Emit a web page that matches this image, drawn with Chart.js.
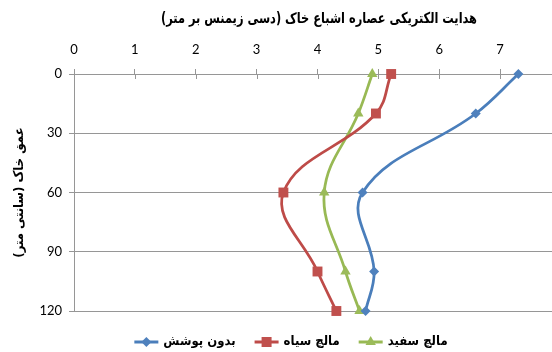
<!DOCTYPE html>
<html>
<head>
<meta charset="utf-8">
<script src="https://cdn.jsdelivr.net/npm/chart.js@4.4.1/dist/chart.umd.min.js"></script>
<style>
  html, body { margin: 0; padding: 0; background: #fff; }
  #wrap { width: 552px; height: 352px; overflow: hidden; position: relative; }
  #c { display: block; }
</style>
</head>
<body>
<div id="wrap"><canvas id="c" width="600" height="352"></canvas></div>
<script>
// Soil depth (cm) at which the saturated-paste EC was measured
const depths = [0, 20, 60, 100, 120];
// EC (dS/m) per treatment
const bareSoil   = [7.30, 6.60, 4.74, 4.93, 4.79];
const blackMulch = [5.21, 4.96, 3.44, 4.00, 4.31];
const whiteMulch = [4.90, 4.67, 4.11, 4.46, 4.69];
// Labels
const seriesNames = ['بدون پوشش', 'مالچ سیاه', 'مالچ سفید'];
const chartTitle = 'هدایت الکتریکی عصاره اشباع خاک (دسی زیمنس بر متر)';
const depthTitle = 'عمق خاک (سانتی متر)';
const ecTicks = [0, 1, 2, 3, 4, 5, 6, 7, 8];
const depthTicks = [0, 30, 60, 90, 120];

const GRID = '#969696';
const persianFont = '"DejaVu Sans Condensed", "DejaVu Sans", sans-serif';
const tickFont = { family: 'Lato, "Liberation Sans", sans-serif', size: 13 };

function profile(values) {
  return depths.map((d, i) => ({ x: values[i], y: d }));
}

// Title drawn centred over the plot, fitted to a fixed width
const titlePlugin = {
  id: 'figTitle',
  afterDraw(chart) {
    const ctx = chart.ctx;
    ctx.save();
    ctx.font = 'bold 15px ' + persianFont;
    ctx.fillStyle = '#000';
    ctx.textAlign = 'center';
    ctx.textBaseline = 'middle';
    const w = ctx.measureText(chartTitle).width;
    const k = Math.min(1, 316 / w);
    ctx.translate(319, 19);
    ctx.scale(k, 1);
    ctx.fillText(chartTitle, 0, 0);
    ctx.restore();
  }
};

// Cross-style tick marks on the EC axis (inner half)
const crossTicks = {
  id: 'crossTicks',
  beforeDatasetsDraw(chart) {
    const x = chart.scales.x, ctx = chart.ctx;
    const top = chart.chartArea.top;
    ctx.save();
    ctx.strokeStyle = GRID;
    ctx.lineWidth = 1;
    x.ticks.forEach(t => {
      const px = Math.round(x.getPixelForValue(t.value)) + 0.5;
      ctx.beginPath();
      ctx.moveTo(px, top);
      ctx.lineTo(px, top + 5);
      ctx.stroke();
    });
    ctx.restore();
  }
};

// Legend with line + marker samples
function drawMarker(ctx, style, x, y, color) {
  ctx.fillStyle = color;
  ctx.beginPath();
  if (style === 'rectRot') {
    const r = 5;
    ctx.moveTo(x - r, y); ctx.lineTo(x, y - r); ctx.lineTo(x + r, y); ctx.lineTo(x, y + r);
  } else if (style === 'rect') {
    const s = 5;
    ctx.rect(x - s, y - s, 2 * s, 2 * s);
  } else {
    const r = 6;
    ctx.moveTo(x, y - r);
    ctx.lineTo(x + r * 0.866, y + r * 0.5);
    ctx.lineTo(x - r * 0.866, y + r * 0.5);
  }
  ctx.closePath();
  ctx.fill();
}
const legendPlugin = {
  id: 'lineLegend',
  afterDraw(chart) {
    const ctx = chart.ctx;
    const sets = chart.data.datasets;
    ctx.save();
    ctx.font = 'bold 13px ' + persianFont;
    const sample = 24, gapText = 5, gapItem = 19;
    const widths = sets.map(ds => ctx.measureText(ds.label).width);
    const total = widths.reduce((a, w) => a + sample + gapText + w, 0) + gapItem * (sets.length - 1);
    let x = 291 - total / 2;
    const y = 342;
    sets.forEach((ds, i) => {
      ctx.strokeStyle = ds.borderColor;
      ctx.lineWidth = 3;
      ctx.beginPath();
      ctx.moveTo(x, y); ctx.lineTo(x + sample, y);
      ctx.stroke();
      drawMarker(ctx, ds.pointStyle, x + sample / 2, y, ds.pointBackgroundColor);
      ctx.fillStyle = '#000';
      ctx.textAlign = 'left';
      ctx.textBaseline = 'middle';
      ctx.fillText(ds.label, x + sample + gapText, y);
      x += sample + gapText + widths[i] + gapItem;
    });
    ctx.restore();
  }
};

const common = { showLine: true, tension: 0.4, borderWidth: 2.75, clip: false, fill: false };

new Chart(document.getElementById('c'), {
  type: 'scatter',
  data: {
    datasets: [
      Object.assign({}, common, {
        label: seriesNames[0], data: profile(bareSoil),
        borderColor: '#4A7EBB', pointBackgroundColor: '#4F81BD', pointBorderColor: '#4F81BD',
        pointStyle: 'rectRot', pointRadius: 5, pointBorderWidth: 0
      }),
      Object.assign({}, common, {
        label: seriesNames[1], data: profile(blackMulch),
        borderColor: '#BE4B48', pointBackgroundColor: '#C0504D', pointBorderColor: '#C0504D',
        pointStyle: 'rect', pointRadius: 7, pointBorderWidth: 0
      }),
      Object.assign({}, common, {
        label: seriesNames[2], data: profile(whiteMulch),
        borderColor: '#98B954', pointBackgroundColor: '#9BBB59', pointBorderColor: '#9BBB59',
        pointStyle: 'triangle', pointRadius: 6, pointBorderWidth: 0
      })
    ]
  },
  options: {
    responsive: false,
    animation: false,
    events: [],
    layout: { padding: { top: 0, left: 0, right: 39, bottom: 41 } },
    plugins: { legend: { display: false }, title: { display: false }, tooltip: { enabled: false } },
    scales: {
      x: {
        type: 'linear', position: 'top', min: 0, max: 8,
        afterBuildTicks: s => { s.ticks = ecTicks.map(v => ({ value: v })); },
        afterFit: s => { s.height = 74; },
        grid: { drawOnChartArea: false, drawTicks: true, tickLength: 5, color: GRID },
        border: { display: true, color: GRID },
        ticks: { padding: 11, color: '#000', font: tickFont }
      },
      y: {
        type: 'linear', reverse: true, min: 0, max: 120,
        afterBuildTicks: s => { s.ticks = depthTicks.map(v => ({ value: v })); },
        afterFit: s => { s.width = 74; },
        grid: { color: GRID, tickLength: 5, drawTicks: true },
        border: { display: true, color: GRID },
        ticks: { padding: 7, color: '#000', font: tickFont },
        title: {
          display: true, text: depthTitle, color: '#000',
          font: { family: persianFont, size: 13, weight: 'bold' },
          padding: { top: 12, bottom: 0 }
        }
      }
    }
  },
  plugins: [crossTicks, titlePlugin, legendPlugin]
});
</script>
</body>
</html>
